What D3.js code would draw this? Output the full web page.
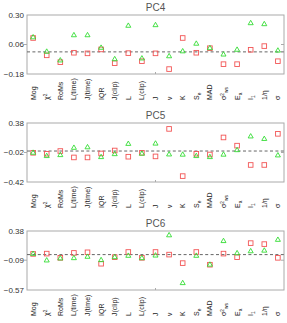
<!DOCTYPE html>
<html>
<head>
<meta charset="utf-8">
<script src="https://cdn.jsdelivr.net/npm/d3@7"></script>
<style>
  body { margin: 0; background: #fff; }
  svg { display: block; font-family: "Liberation Sans", Arial, sans-serif; }
</style>
</head>
<body>
<div id="root"></div>
<script>
// categories, "^" = superscript, "_" = subscript
const categories = ["Mog", "χ^2", "RoMs", "L(time)", "J(time)", "IQR", "J(clip)", "L", "L(clip)", "J",
    "ν", "K", "S_e", "MAD", "σ^2_ws", "E_a", "I_1", "1/η", "σ"];

const panelNames = ["PC4", "PC5", "PC6"];

const pc4Ticks = [-0.18, 0.06, 0.30];
const pc5Ticks = [-0.42, -0.02, 0.38];
const pc6Ticks = [-0.57, -0.09, 0.38];

// red squares
const pc4Squares = [0.113, -0.028, -0.084, -0.007, -0.012, 0.020, -0.092, -0.010, -0.076, -0.012,
    -0.140, 0.113, -0.007, 0.030, -0.100, -0.100, 0.017, 0.047, -0.076];
const pc5Squares = [-0.024, -0.037, 0.000, -0.087, -0.087, -0.033, 0.007, -0.077, -0.024, -0.073,
    0.300, -0.340, -0.037, -0.047, 0.184, 0.073, -0.189, -0.189, 0.233];
const pc6Squares = [0.011, 0.016, -0.052, 0.027, 0.037, -0.147, -0.042, 0.042, -0.052, 0.042,
    0.000, -0.137, 0.042, -0.163, 0.016, -0.042, 0.185, 0.169, -0.052];

// green triangles
const pc4Triangles = [0.118, 0.001, -0.070, 0.135, 0.135, 0.033, -0.060, 0.212, -0.054, 0.217,
    -0.036, 0.004, 0.066, 0.030, -0.022, 0.017, 0.233, 0.225, 0.010];
const pc5Triangles = [-0.024, -0.069, -0.056, 0.043, 0.050, -0.083, -0.043, 0.096, -0.037, 0.100,
    -0.047, -0.050, -0.069, -0.083, -0.050, 0.011, 0.197, 0.163, -0.060];
const pc6Triangles = [0.011, -0.095, -0.063, -0.058, -0.036, -0.090, -0.042, -0.020, -0.058, -0.016,
    0.310, -0.460, -0.020, -0.163, 0.217, 0.021, 0.053, 0.063, 0.237];

const panels = [
    {name: panelNames[0], ticks: pc4Ticks, squares: pc4Squares, triangles: pc4Triangles},
    {name: panelNames[1], ticks: pc5Ticks, squares: pc5Squares, triangles: pc5Triangles},
    {name: panelNames[2], ticks: pc6Ticks, squares: pc6Squares, triangles: pc6Triangles}
];

const W = 287, H = 323,
    left = 27, right = 284,
    boxH = 59, firstTop = 15, step = 108;

const svg = d3.select("#root").append("svg")
    .attr("width", W)
    .attr("height", H);

const x = d3.scalePoint()
    .domain(d3.range(categories.length))
    .range([left, right])
    .padding(0.45);

const fmt = d3.format(".2f");
const tri = d3.symbol().type(d3.symbolTriangle).size(11);

function addLabel(sel, label) {
    // split into pieces of normal / sup / sub text
    const parts = label.match(/(\^[^_^]+|_[^_^]+|[^_^]+)/g);
    let shift = 0;
    parts.forEach(p => {
        let kind = p[0] === "^" ? -1 : p[0] === "_" ? 1 : 0;
        let t = kind ? p.slice(1) : p;
        let target = kind * 2.2;
        sel.append("tspan")
            .attr("dy", target - shift)
            .style("font-size", kind ? "4.8px" : null)
            .text(t);
        shift = target;
    });
}

panels.forEach((p, i) => {
    const top = firstTop + i * step, bottom = top + boxH;
    const g = svg.append("g");

    const y = d3.scaleLinear()
        .domain([p.ticks[0], p.ticks[2]])
        .range([bottom, top]);

    g.append("text")
        .attr("x", (left + right) / 2)
        .attr("y", top - 4.5)
        .attr("text-anchor", "middle")
        .style("font-size", "10px")
        .style("fill", "#555")
        .text(p.name);

    g.append("rect")
        .attr("x", left)
        .attr("y", top)
        .attr("width", right - left)
        .attr("height", boxH)
        .style("fill", "none")
        .style("stroke", "#aaa")
        .style("stroke-width", 1);

    // y ticks
    g.selectAll(".ytick")
        .data(p.ticks)
        .enter()
        .append("text")
        .attr("x", left - 3)
        .attr("y", d => y(d) + 2.8)
        .attr("text-anchor", "end")
        .style("font-size", "8px")
        .style("fill", "#333")
        .text(d => fmt(d));

    g.append("line")
        .attr("x1", left - 3).attr("x2", left)
        .attr("y1", y(p.ticks[1])).attr("y2", y(p.ticks[1]))
        .style("stroke", "#aaa");
    g.append("line")
        .attr("x1", right - 3).attr("x2", right)
        .attr("y1", y(p.ticks[1])).attr("y2", y(p.ticks[1]))
        .style("stroke", "#aaa");
    g.append("line")
        .attr("x1", x(9)).attr("x2", x(9))
        .attr("y1", bottom).attr("y2", bottom - 2)
        .style("stroke", "#aaa");

    // zero line
    g.append("line")
        .attr("x1", left).attr("x2", right)
        .attr("y1", y(0)).attr("y2", y(0))
        .style("stroke", "#666")
        .style("stroke-width", 1)
        .style("stroke-dasharray", "3,2.4");

    g.selectAll(".sq")
        .data(p.squares)
        .enter()
        .append("rect")
        .attr("x", (d, j) => x(j) - 2.3)
        .attr("y", d => y(d) - 2.3)
        .attr("width", 4.6)
        .attr("height", 4.6)
        .style("fill", "none")
        .style("stroke", "#f25555")
        .style("stroke-width", 0.9);

    g.selectAll(".tri")
        .data(p.triangles)
        .enter()
        .append("path")
        .attr("d", tri)
        .attr("transform", (d, j) => "translate(" + x(j) + "," + y(d) + ")")
        .style("fill", "none")
        .style("stroke", "#33dd33")
        .style("stroke-width", 0.9);

    // category labels
    categories.forEach((c, j) => {
        const t = g.append("text")
            .attr("transform", "translate(" + (x(j) + 2.5) + "," + (bottom + 26) + ") rotate(-90)")
            .attr("text-anchor", "start")
            .style("font-size", "7px")
            .style("fill", "#222");
        addLabel(t, c);
    });
});
</script>
</body>
</html>
